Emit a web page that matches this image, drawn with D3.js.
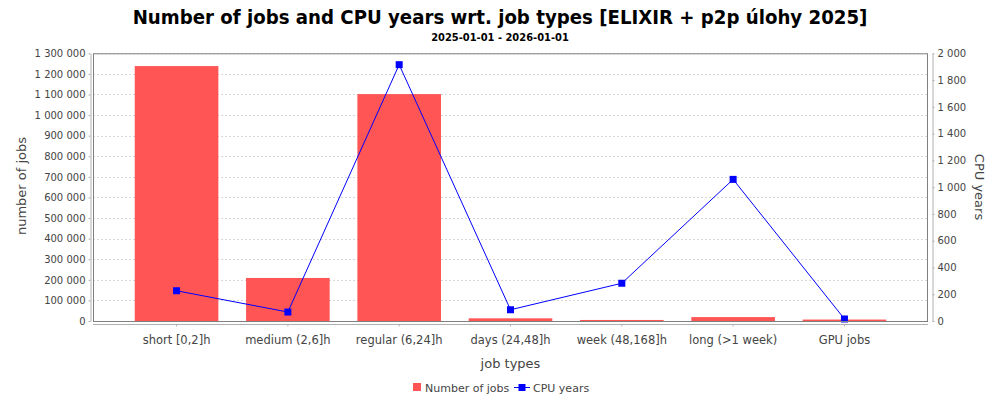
<!DOCTYPE html>
<html><head><meta charset="utf-8">
<script src="https://cdn.jsdelivr.net/npm/d3@7"></script>
<style>body{margin:0;background:#fff}svg{display:block}</style>
</head><body>
<svg id="c" width="1000" height="400"></svg>
<script>
const categories = ["short [0,2]h","medium (2,6]h","regular (6,24]h","days (24,48]h","week (48,168]h","long (>1 week)","GPU jobs"];
const jobs = [1238000, 209000, 1102000, 13000, 5000, 19000, 7000];
const cpuYears = [226, 67, 1915, 84, 282, 1058, 15];
const leftTicks = [0,100000,200000,300000,400000,500000,600000,700000,800000,900000,1000000,1100000,1200000,1300000];
const rightTicks = [0,200,400,600,800,1000,1200,1400,1600,1800,2000];

const svg = d3.select("#c");
const L = 93, R = 928, T = 53.3, B = 321;
const fmt = v => d3.format(",")(v).replace(/,/g, " ");
const tickFont = "DejaVu Sans";

const x = d3.scaleBand().domain(categories).range([L + (R-L)*0.05, R - (R-L)*0.05]).paddingInner(0.249).paddingOuter(0);
const yL = d3.scaleLinear().domain([0,1300000]).range([B,T]);
const yR = d3.scaleLinear().domain([0,2000]).range([B,T]);

// title
svg.append("text").attr("x",500).attr("y",24).attr("text-anchor","middle")
  .style("font-family","DejaVu Sans Condensed, DejaVu Sans").style("font-stretch","condensed")
  .style("font-weight","bold").style("font-size","20.2px").text("Number of jobs and CPU years wrt. job types [ELIXIR + p2p úlohy 2025]");
svg.append("text").attr("x",500).attr("y",41).attr("text-anchor","middle")
  .style("font-family","DejaVu Sans Condensed, DejaVu Sans").style("font-stretch","condensed")
  .style("font-weight","bold").style("font-size","11px").text("2025-01-01 - 2026-01-01");

// gridlines
svg.append("g").selectAll("line").data(leftTicks.slice(1)).join("line")
  .attr("x1",L).attr("x2",R).attr("y1",d=>Math.round(yL(d))+0.5).attr("y2",d=>Math.round(yL(d))+0.5)
  .attr("stroke","#d8d8d8").attr("stroke-width",1).attr("stroke-dasharray","2,2");

// bars
svg.append("g").selectAll("rect").data(jobs).join("rect")
  .attr("x",(d,i)=>x(categories[i])).attr("width",x.bandwidth())
  .attr("y",d=>yL(d)).attr("height",d=>B-yL(d)).attr("fill","#ff5555");

// line
const cx = (i)=>x(categories[i])+x.bandwidth()/2;
svg.append("path").datum(cpuYears)
  .attr("d", d3.line().x((d,i)=>cx(i)).y(d=>yR(d)))
  .attr("fill","none").attr("stroke","#0000ff").attr("stroke-width",1);
svg.append("g").selectAll("rect").data(cpuYears).join("rect")
  .attr("x",(d,i)=>cx(i)-3.5).attr("y",d=>yR(d)-3.5).attr("width",7).attr("height",7).attr("fill","#0000ff");

// plot frame
svg.append("rect").attr("x",L+0.5).attr("y",T+0.5).attr("width",R-L-1).attr("height",B-T)
  .attr("fill","none").attr("stroke","#808080").attr("stroke-width",1);

// left axis
const gL = svg.append("g").attr("transform",`translate(${L-2.5},0)`)
  .call(d3.axisLeft(yL).tickValues(leftTicks).tickFormat(fmt).tickSizeInner(2).tickSizeOuter(0).tickPadding(3));
// right axis
const gR = svg.append("g").attr("transform",`translate(${R+4.5},0)`)
  .call(d3.axisRight(yR).tickValues(rightTicks).tickFormat(fmt).tickSizeInner(2).tickSizeOuter(0).tickPadding(3));
// bottom axis
const gB = svg.append("g").attr("transform",`translate(0,${B+3.5})`)
  .call(d3.axisBottom(x).tickSizeInner(2).tickSizeOuter(0).tickPadding(9));
gB.select(".domain").attr("d",`M${L},0H${R}`);
[gL,gR,gB].forEach(g=>{
  g.select(".domain").attr("stroke","#b0b0b0");
  g.selectAll(".tick line").attr("stroke","#b0b0b0");
  g.selectAll("text").style("font-family",tickFont).style("font-size","10px").attr("fill","#444");
});
gB.selectAll("text").style("font-size","11.5px");

// axis titles
svg.append("text").attr("transform","translate(26,186) rotate(-90)").attr("text-anchor","middle")
  .style("font-family",tickFont).style("font-size","13px").attr("fill","#444").text("number of jobs");
svg.append("text").attr("transform","translate(975,187) rotate(90)").attr("text-anchor","middle")
  .style("font-family",tickFont).style("font-size","13px").attr("fill","#444").text("CPU years");
svg.append("text").attr("x",(L+R)/2).attr("y",368).attr("text-anchor","middle")
  .style("font-family",tickFont).style("font-size","13px").attr("fill","#444").text("job types");

// legend
const lg = svg.append("g");
lg.append("rect").attr("x",413).attr("y",383).attr("width",8).attr("height",8).attr("fill","#ff5555");
lg.append("text").attr("x",425).attr("y",392).style("font-family",tickFont).style("font-size","11px").attr("fill","#444").text("Number of jobs");
lg.append("line").attr("x1",514).attr("x2",530).attr("y1",387.5).attr("y2",387.5).attr("stroke","#0000ff");
lg.append("rect").attr("x",518.5).attr("y",384).attr("width",7).attr("height",7).attr("fill","#0000ff");
lg.append("text").attr("x",533).attr("y",392).style("font-family",tickFont).style("font-size","11px").attr("fill","#444").text("CPU years");
</script>
</body></html>
